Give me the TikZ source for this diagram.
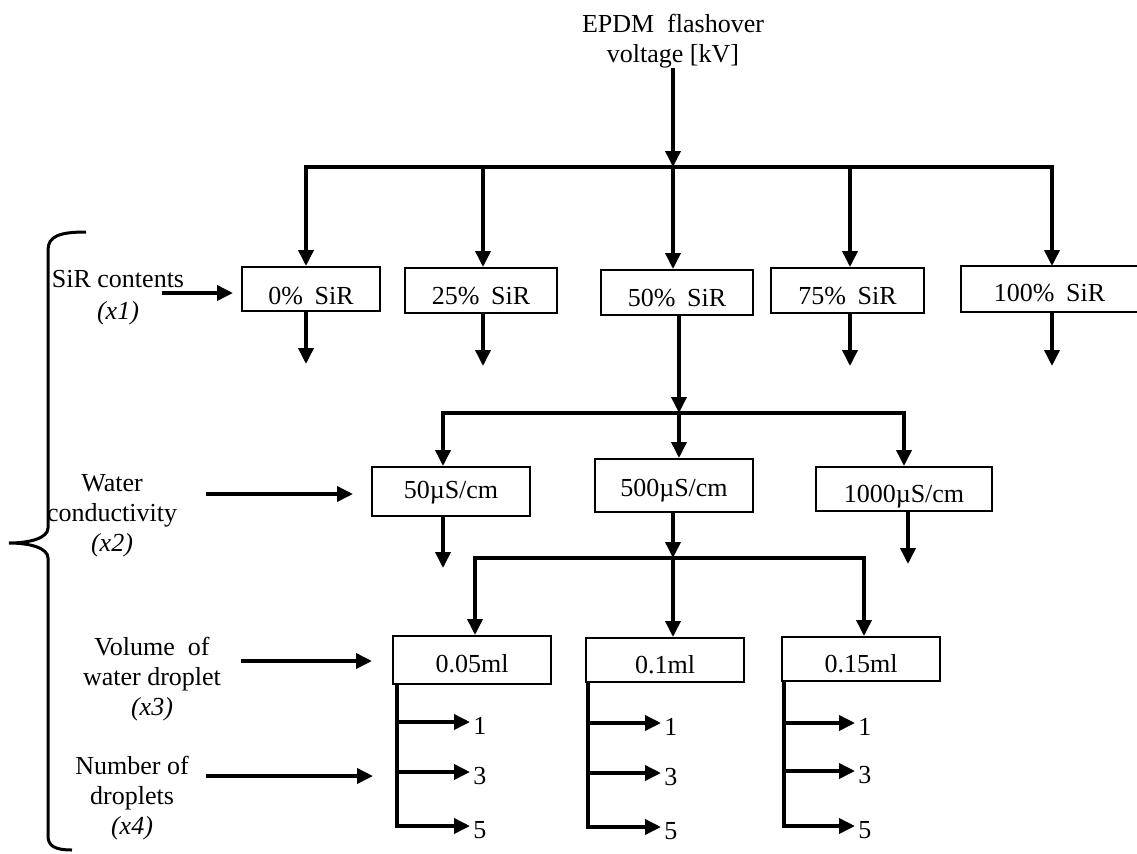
\documentclass[tikz,border=0pt]{standalone}
\usepackage{fontspec}
\setmainfont{Liberation Serif}
\usetikzlibrary{arrows.meta}
\newcommand{\figfont}{\fontsize{13}{15}\selectfont}
\newcommand{\lowtext}[2]{\raisebox{-#1}[0pt][0pt]{#2}}
\begin{document}
\begin{tikzpicture}[x=0.5pt,y=-0.5pt,
  ln/.style={line width=1.8pt},
  arr/.style={line width=1.8pt,-{Triangle[length=8pt,width=7.5pt]}},
  arrtwo/.style={line width=1.8pt,{Triangle[length=8pt,width=7.5pt]}-{Triangle[length=8pt,width=7.5pt]}},
  bx/.style 2 args={draw,line width=1pt,inner sep=0pt,minimum width=#1*0.5pt,minimum height=#2*0.5pt,font=\figfont},
  lbl/.style={align=center,inner sep=0pt,font=\figfont},
  num/.style={anchor=west,inner sep=1.5pt,font=\figfont}]
\useasboundingbox (0,0) rectangle (1137,853);

% top
\node[lbl] (top) at (673,41) {EPDM\hspace{0.5em}flashover\\voltage [kV]};

% row 1 boxes
\node[bx={138}{44}] (b0) at (311,289) {\lowtext{7.5pt}{0\%\hspace{0.45em}SiR}};
\node[bx={152}{45}] (b25) at (481,290.5) {\lowtext{7pt}{25\%\hspace{0.45em}SiR}};
\node[bx={152}{45}] (b50) at (677,292.5) {\lowtext{7pt}{50\%\hspace{0.45em}SiR}};
\node[bx={153}{45}] (b75) at (847.5,290.5) {\lowtext{7pt}{75\%\hspace{0.45em}SiR}};
\node[bx={175}{44},draw=none] (b100) at (1049.5,289) {\lowtext{6pt}{100\%\hspace{0.45em}SiR}};
\draw[line width=1pt] (b100.north east) -- (b100.north west) -- (b100.south west) -- (b100.south east);

% row 2 boxes
\node[bx={158}{49}] (c50) at (451,491.5) {\lowtext{3.5pt}{50µS/cm}};
\node[bx={158}{53}] (c500) at (674,485.5) {\lowtext{5.5pt}{500µS/cm}};
\node[bx={176}{44}] (c1000) at (904,489) {\lowtext{6.5pt}{1000µS/cm}};

% row 3 boxes
\node[bx={158}{48}] (d005) at (472,660) {\lowtext{6.3pt}{0.05ml}};
\node[bx={158}{44}] (d01) at (665,660) {\lowtext{6.8pt}{0.1ml}};
\node[bx={158}{44}] (d015) at (861,659) {\lowtext{6.8pt}{0.15ml}};

% bus 1
\coordinate (j1) at (673,167);
\coordinate (h0) at (306,167);
\coordinate (h25) at (483,167);
\coordinate (h75) at (850,167);
\coordinate (h100) at (1052,167);
\draw[arr] (top.south) -- (j1);
\draw[arrtwo] (h0 |- b0.north) -- (h0) -- (h100) -- (h100 |- b100.north);
\draw[arr] (h25) -- (h25 |- b25.north);
\draw[arr] (j1) -- (j1 |- b50.north);
\draw[arr] (h75) -- (h75 |- b75.north);

% row 1 outputs
\draw[arr] (b0.south -| h0) -- ++(0,52);
\draw[arr] (b25.south -| h25) -- ++(0,52);
\draw[arr] (b75.south -| h75) -- ++(0,52);
\draw[arr] (b100.south -| h100) -- ++(0,54);

% bus 2
\coordinate (j2) at (679,413);
\coordinate (g50) at (443,413);
\coordinate (g1000) at (904,413);
\draw[arr] (b50.south -| j2) -- (j2);
\draw[arrtwo] (g50 |- c50.north) -- (g50) -- (g1000) -- (g1000 |- c1000.north);
\draw[arr] (j2) -- (j2 |- c500.north);

% row 2 outputs
\coordinate (k50) at (443,568);
\coordinate (k1000) at (908,564);
\coordinate (j3) at (673,558);
\draw[arr] (c50.south -| k50) -- (k50);
\draw[arr] (c1000.south -| k1000) -- (k1000);
\draw[arr] (c500.south -| j3) -- (j3);

% bus 3
\coordinate (f1) at (475,558);
\coordinate (f3) at (864,558);
\draw[arrtwo] (f1 |- d005.north) -- (f1) -- (f3) -- (f3 |- d015.north);
\draw[arr] (j3) -- (j3 |- d01.north);

% number of droplets, column A
\coordinate (tA) at (397,826);
\node[num] (a1) at (470,722) {\lowtext{6pt}{1}};
\node[num] (a3) at (470,772) {\lowtext{6pt}{3}};
\node[num] (a5) at (470,826) {\lowtext{6pt}{5}};
\draw[arr] (d005.south -| tA) -- (tA) -- (a5.west);
\draw[arr] (tA |- a1.west) -- (a1.west);
\draw[arr] (tA |- a3.west) -- (a3.west);

% column B
\coordinate (tB) at (588,827);
\node[num] (e1) at (661,723) {\lowtext{6pt}{1}};
\node[num] (e3) at (661,773) {\lowtext{6pt}{3}};
\node[num] (e5) at (661,827) {\lowtext{6pt}{5}};
\draw[arr] (d01.south -| tB) -- (tB) -- (e5.west);
\draw[arr] (tB |- e1.west) -- (e1.west);
\draw[arr] (tB |- e3.west) -- (e3.west);

% column C
\coordinate (tC) at (784,826);
\node[num] (m1) at (855,723) {\lowtext{6pt}{1}};
\node[num] (m3) at (855,771) {\lowtext{6pt}{3}};
\node[num] (m5) at (855,826) {\lowtext{6pt}{5}};
\draw[arr] (d015.south -| tC) -- (tC) -- (m5.west);
\draw[arr] (tC |- m1.west) -- (m1.west);
\draw[arr] (tC |- m3.west) -- (m3.west);

% left labels
\node[lbl] (L1) at (118,298) {SiR contents\\[1pt]\textit{(x1)}};
\node[lbl] (L2) at (112,516) {Water\\conductivity\\\textit{(x2)}};
\node[lbl] (L3) at (152,679) {Volume\hspace{0.5em}of\\water droplet\\\textit{(x3)}};
\node[lbl] (L4) at (132,798) {Number of\\droplets\\\textit{(x4)}};
\coordinate (L1a) at (162,293);
\coordinate (L2a) at (206,494);
\coordinate (L3a) at (241,661);
\coordinate (L4a) at (206,776);
\draw[arr,shorten >=4pt] (L1a) -- (L1a -| b0.west);
\draw[arr,shorten >=9pt] (L2a) -- (L2a -| c50.west);
\draw[arr,shorten >=10pt] (L3a) -- (L3a -| d005.west);
\draw[arr,shorten >=12pt] (L4a) -- (L4a -| tA);

% brace
\draw[line width=1.5pt] (86,232) .. controls (60,232) and (48,236) .. (48,250) -- (48,528)
  .. controls (48,538) and (30,543) .. (9,543) .. controls (30,543) and (48,548) .. (48,558)
  -- (48,836) .. controls (48,846) and (55,850) .. (72,850);
\end{tikzpicture}
\end{document}
